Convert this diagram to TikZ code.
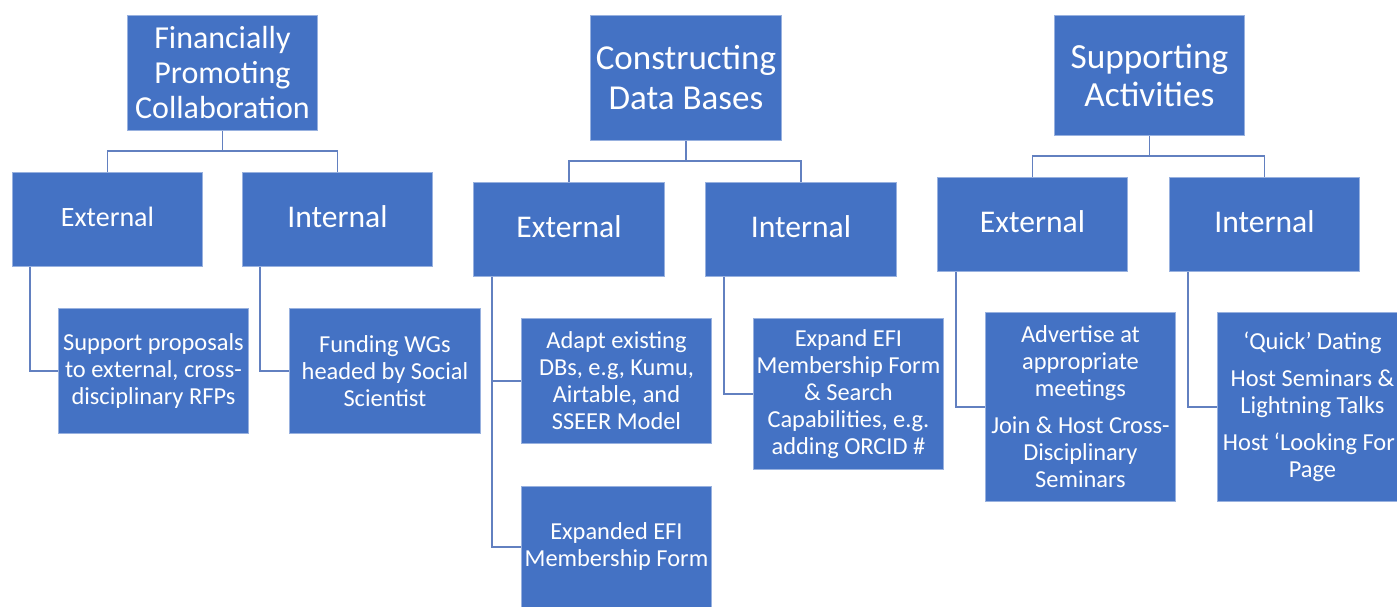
\documentclass[tikz,border=0pt]{standalone}
\usepackage{fontspec}
\setmainfont{Carlito}
\usepackage{tikz}
\tikzstyle{chart} = [x = 1pt, y = -1pt]
\definecolor{boxColor}{RGB}{68,114,196}
\definecolor{linkColor}{RGB}{98,128,192}
\tikzstyle{boxStyle} = [fill=boxColor, draw=boxColor!55!white, line width=.9pt, text=white, align=center, inner sep=1pt, anchor=north west]
\tikzstyle{linkStyle} = [color=linkColor, line width=1.3pt]
\tikzstyle{topText} = [font=\fontsize{35}{40}\selectfont]
\tikzstyle{sideText} = [font=\fontsize{31.6}{36}\selectfont, text depth=6pt]
\tikzstyle{leafText} = [font=\fontsize{24.4}{27}\selectfont]
\newcommand{\chartBox}[7]{\node [boxStyle, #7, minimum width=#4pt, minimum height=#5pt] (#1) at (#2,#3) {#6};}
\newcommand{\paraGap}{\\[10pt]}

\begin{document}
\begin{tikzpicture}[chart]
  \useasboundingbox (0,0) rectangle (1397,606);
  \clip (0,0) rectangle (1397,606);

  % top row
  \chartBox{topFinance}{127}{15}{190}{115}{Financially\\Promoting\\Collaboration}{font=\fontsize{32}{35}\selectfont}
  \chartBox{topData}{590}{15}{191}{125}{Constructing\\Data Bases}{topText}
  \chartBox{topSupport}{1054}{15}{190}{120}{Supporting\\Activities}{font=\fontsize{35.3}{38}\selectfont}

  % second row
  \chartBox{extFinance}{12}{172}{190}{94}{External}{sideText, font=\fontsize{28}{32}\selectfont}
  \chartBox{intFinance}{242}{172}{190}{94}{Internal}{sideText}
  \chartBox{extData}{473}{182}{191}{94}{External}{sideText}
  \chartBox{intData}{705}{182}{191}{94}{Internal}{sideText}
  \chartBox{extSupport}{937}{177}{190}{94}{External}{sideText}
  \chartBox{intSupport}{1169}{177}{190}{94}{Internal}{sideText}

  % leaves
  \chartBox{leafFinanceA}{58}{308}{190}{125}{Support proposals\\to external, cross-\\disciplinary RFPs}{leafText}
  \chartBox{leafFinanceB}{289}{308}{191}{125}{Funding WGs\\headed by Social\\Scientist}{leafText}
  \chartBox{leafDataA}{521}{318}{190}{125}{Adapt existing\\DBs, e.g, Kumu,\\Airtable, and\\SSEER Model}{leafText}
  \chartBox{leafDataB}{521}{486}{190}{121}{Expanded EFI\\Membership Form}{leafText}
  \chartBox{leafDataC}{753}{318}{190}{151}{Expand EFI\\Membership Form\\\& Search\\Capabilities, e.g.\\adding ORCID \#}{leafText}
  \chartBox{leafSupportA}{985}{312}{190}{189}{Advertise at\\appropriate\\meetings\paraGap Join \& Host Cross-\\Disciplinary\\Seminars}{leafText}
  \chartBox{leafSupportB}{1217}{312}{190}{189}{‘Quick’ Dating\paraGap Host Seminars \&\\Lightning Talks\paraGap Host ‘Looking For’\\Page}{leafText}

  % connectors
  \foreach \group in {Finance, Data, Support} {
    \draw [linkStyle] (ext\group.north) -- ++(0,-21) -| (top\group.south);
    \draw [linkStyle] (int\group.north) -- ++(0,-21) -| (top\group.south);
  }
  \draw [linkStyle] ([xshift=18pt]extFinance.south west) |- (leafFinanceA.west);
  \draw [linkStyle] ([xshift=18pt]intFinance.south west) |- (leafFinanceB.west);
  \draw [linkStyle] ([xshift=19pt]extData.south west) |- (leafDataA.west);
  \draw [linkStyle] ([xshift=19pt]extData.south west) |- (leafDataB.west);
  \draw [linkStyle] ([xshift=19pt]intData.south west) |- (leafDataC.west);
  \draw [linkStyle] ([xshift=19pt]extSupport.south west) |- (leafSupportA.west);
  \draw [linkStyle] ([xshift=19pt]intSupport.south west) |- (leafSupportB.west);
\end{tikzpicture}
\end{document}
